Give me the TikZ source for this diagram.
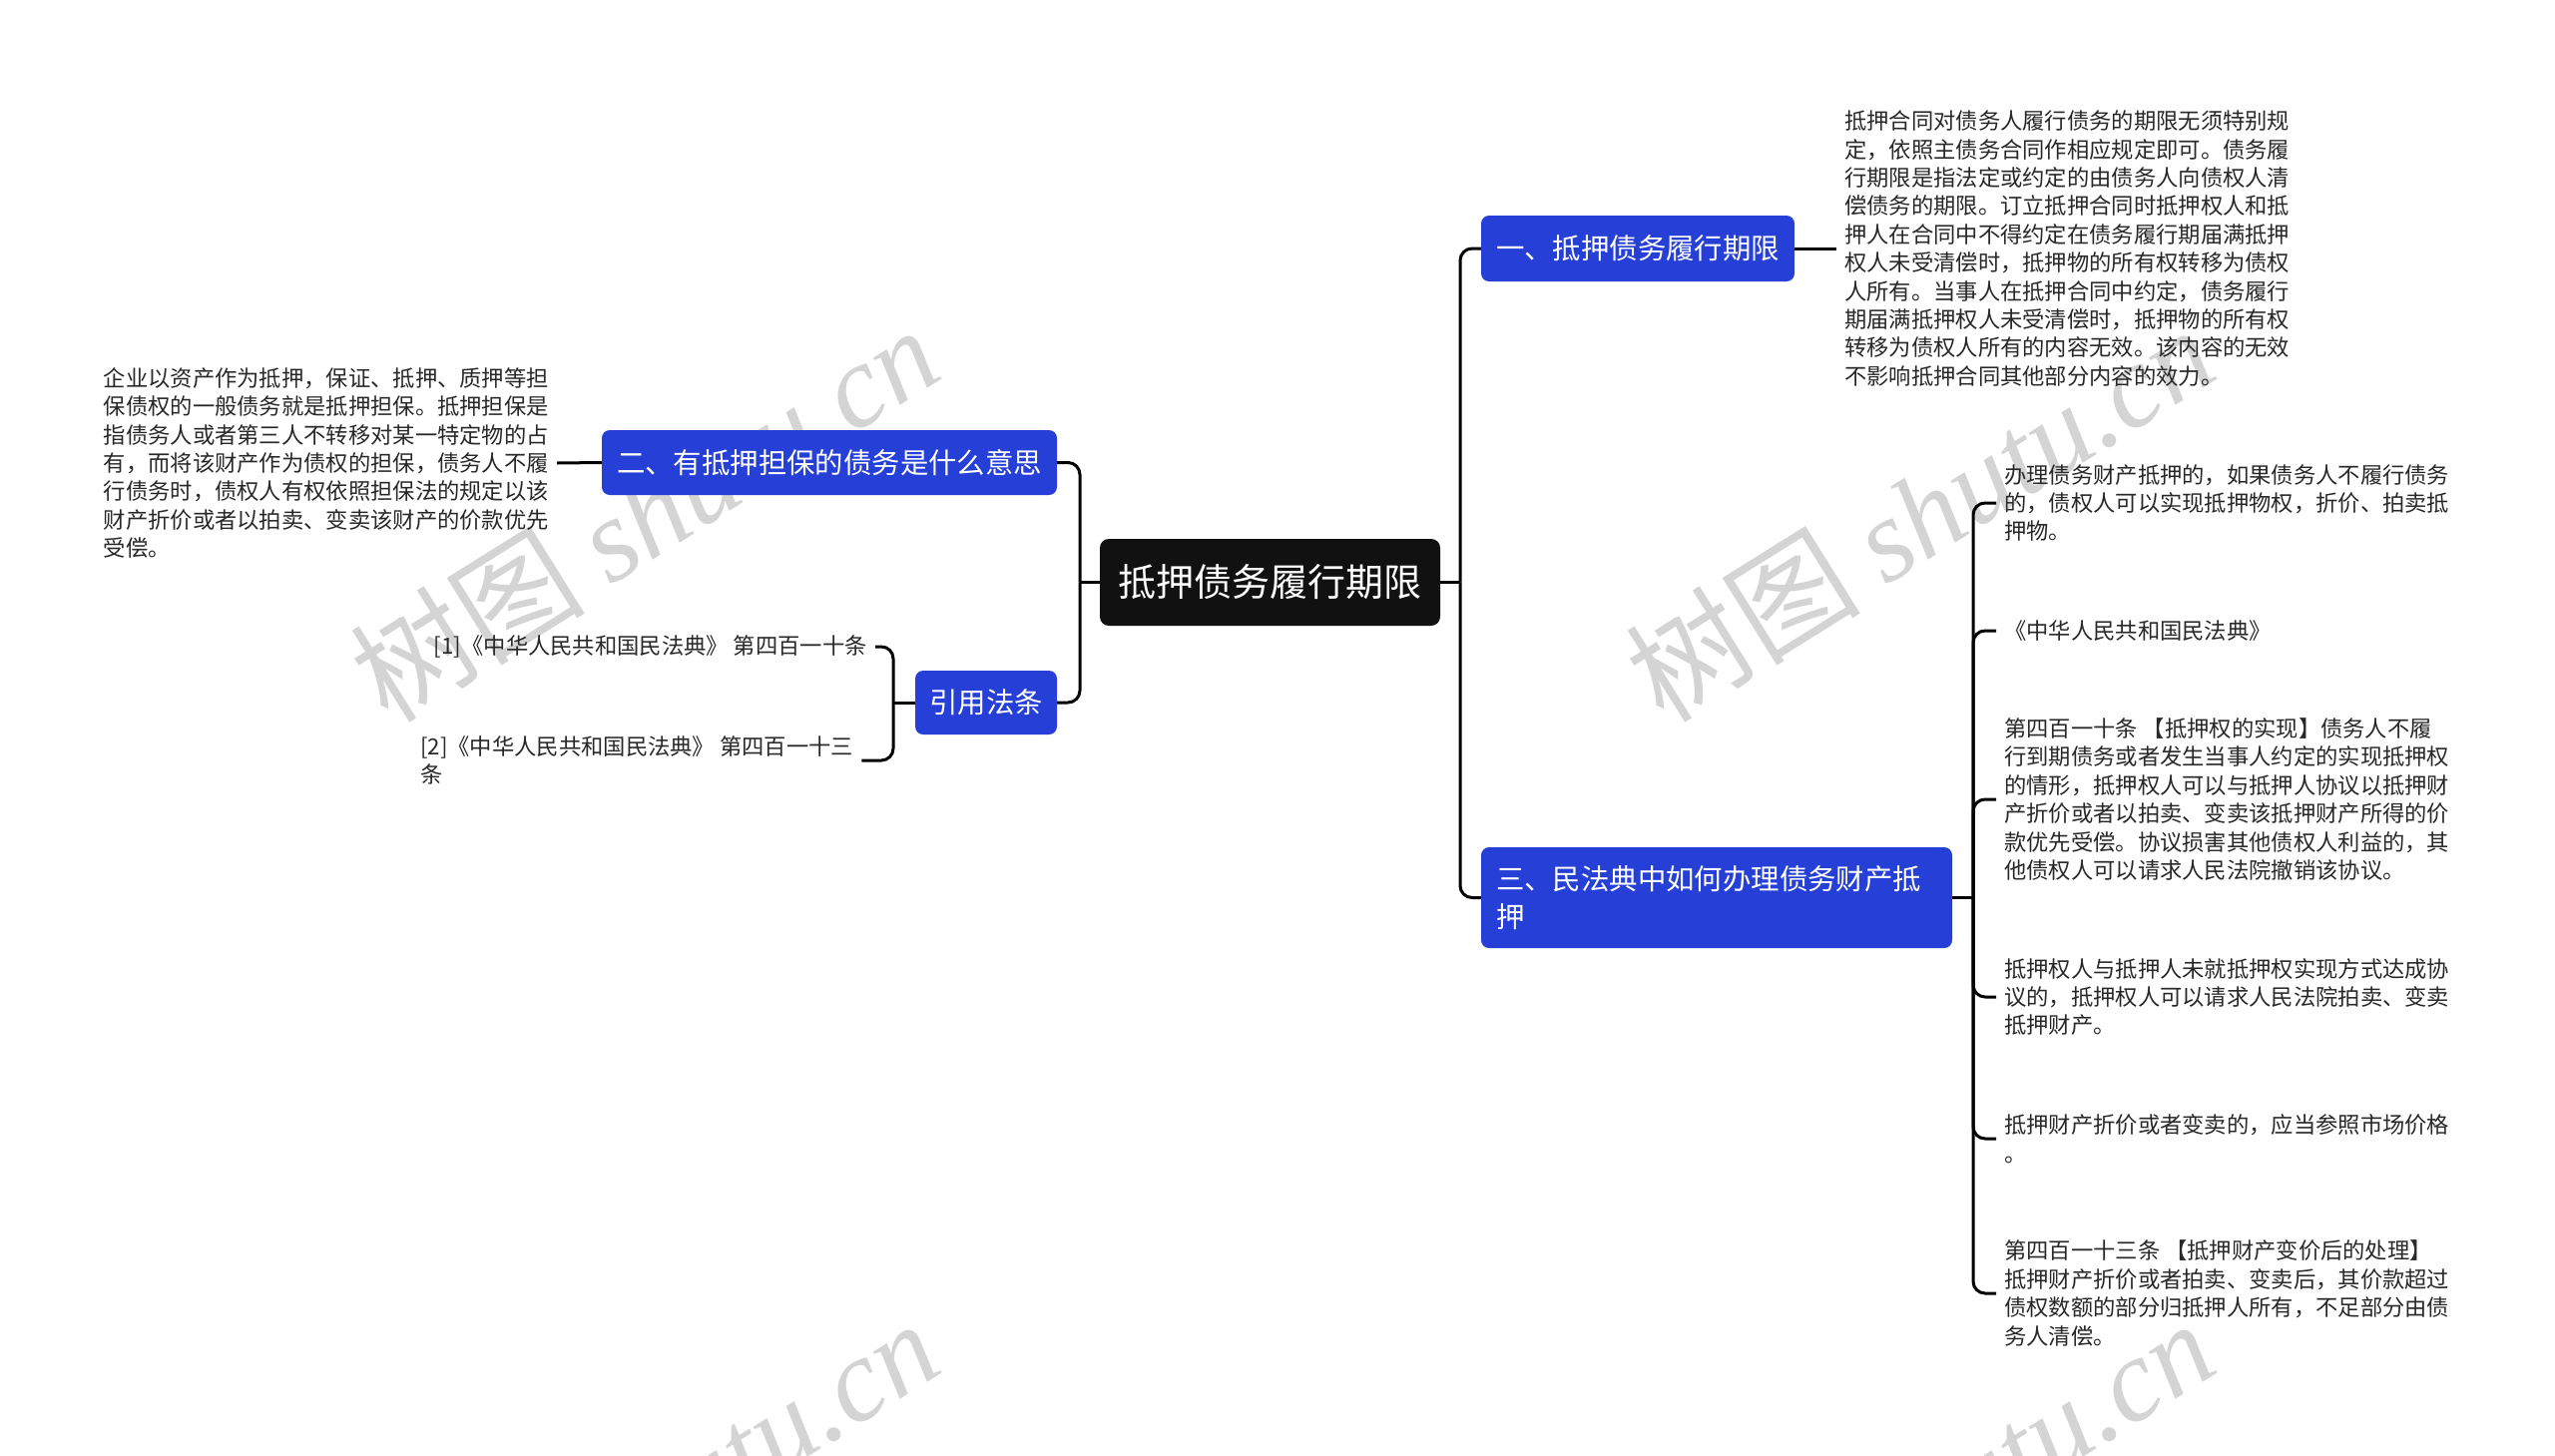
\documentclass[tikz,border=0pt]{standalone}
\usepackage{fontspec}
\setmainfont{Noto Sans CJK SC}
\newfontfamily\wmserif{Liberation Serif}
\definecolor{boxblue}{RGB}{38,64,215}
\definecolor{rootblack}{RGB}{17,17,17}
\definecolor{bodytxt}{RGB}{40,40,40}
\definecolor{wmgray}{RGB}{212,212,212}
\begin{document}
\begin{tikzpicture}[x=1pt,y=-1pt,
  topic/.style={fill=boxblue, text=white, rounded corners=8pt, inner sep=0pt,
    font=\fontsize{28.4}{37.5}\selectfont},
  rootbox/.style={fill=rootblack, text=white, rounded corners=9pt, inner sep=0pt,
    font=\fontsize{38}{44}\selectfont},
  body/.style={font=\fontsize{22.3}{28.4}\selectfont, text=bodytxt, align=left,
    inner xsep=8pt, inner ysep=0pt},
  conn/.style={draw=black, line width=3pt, rounded corners=12pt},
  wmark/.style={text=wmgray, font=\fontsize{118}{124}\selectfont, rotate=32, inner sep=0pt}]
\useasboundingbox (0,0) rectangle (2560,1459);
\fill[white] (0,0) rectangle (2560,1459);
% watermarks
\begin{scope}
\clip (0,0) rectangle (2560,1459);
\node[wmark] (w1) at (645,514) {树图 {\wmserif\itshape shutu.cn}};
\node[wmark] (w2) at (1923,514) {树图 {\wmserif\itshape shutu.cn}};
\node[wmark] (w3) at (645,1510) {树图 {\wmserif\itshape shutu.cn}};
\node[wmark] (w4) at (1923,1510) {树图 {\wmserif\itshape shutu.cn}};
\end{scope}
% main nodes
\node[rootbox, minimum width=341pt, minimum height=87pt] (root) at (1272.5,583.5) {抵押债务履行期限};
\node[topic, minimum width=314pt, minimum height=66pt] (n1) at (1641,249) {一、抵押债务履行期限};
\node[topic, minimum width=472pt, minimum height=101pt, text width=442pt, align=left] (n3) at (1720,899.5) {三、民法典中如何办理债务财产抵\\押};
\node[topic, minimum width=456pt, minimum height=65pt] (n2) at (831,463.5) {二、有抵押担保的债务是什么意思};
\node[topic, minimum width=142pt, minimum height=64pt] (law) at (988,704) {引用法条};
% junctions
\coordinate (rj) at (1463,583.5);
\coordinate (lj) at (1082,583.5);
\coordinate (lawj) at (895,704);
\coordinate (n3j) at (1977,899.5);
% text leaves
\node[body, anchor=west] (t1) at (1840,249) {抵押合同对债务人履行债务的期限无须特别规\\定，依照主债务合同作相应规定即可。债务履\\行期限是指法定或约定的由债务人向债权人清\\偿债务的期限。订立抵押合同时抵押权人和抵\\押人在合同中不得约定在债务履行期届满抵押\\权人未受清偿时，抵押物的所有权转移为债权\\人所有。当事人在抵押合同中约定，债务履行\\期届满抵押权人未受清偿时，抵押物的所有权\\转移为债权人所有的内容无效。该内容的无效\\不影响抵押合同其他部分内容的效力。};
\node[body, anchor=east] (t2) at (558,464) {企业以资产作为抵押，保证、抵押、质押等担\\保债权的一般债务就是抵押担保。抵押担保是\\指债务人或者第三人不转移对某一特定物的占\\有，而将该财产作为债权的担保，债务人不履\\行债务时，债权人有权依照担保法的规定以该\\财产折价或者以拍卖、变卖该财产的价款优先\\受偿。};
\node[body, anchor=east] (r1) at (877,648) {[1]《中华人民共和国民法典》 第四百一十条};
\node[body, anchor=west] (r2) at (413,762) {[2]《中华人民共和国民法典》 第四百一十三\\条};
\node[body, anchor=west] (c1) at (2000,504) {办理债务财产抵押的，如果债务人不履行债务\\的，债权人可以实现抵押物权，折价、拍卖抵\\押物。};
\node[body, anchor=west] (c2) at (2000,632) {《中华人民共和国民法典》};
\node[body, anchor=west] (c3) at (2000,801) {第四百一十条 【抵押权的实现】债务人不履\\行到期债务或者发生当事人约定的实现抵押权\\的情形，抵押权人可以与抵押人协议以抵押财\\产折价或者以拍卖、变卖该抵押财产所得的价\\款优先受偿。协议损害其他债权人利益的，其\\他债权人可以请求人民法院撤销该协议。};
\node[body, anchor=west] (c4) at (2000,999) {抵押权人与抵押人未就抵押权实现方式达成协\\议的，抵押权人可以请求人民法院拍卖、变卖\\抵押财产。};
\node[body, anchor=west] (c5) at (2000,1141) {抵押财产折价或者变卖的，应当参照市场价格\\。};
\node[body, anchor=west] (c6) at (2000,1296) {第四百一十三条 【抵押财产变价后的处理】\\抵押财产折价或者拍卖、变卖后，其价款超过\\债权数额的部分归抵押人所有，不足部分由债\\务人清偿。};
% connectors
\draw[conn] (root.east) -- (rj);
\draw[conn] (n1.west) -| (rj);
\draw[conn] (n3.west) -| (rj);
\draw[conn] (root.west) -- (lj);
\draw[conn] (n2.east) -| (lj);
\draw[conn] (law.east) -| (lj);
\draw[conn] (n1.east) -- (t1.west);
\draw[conn] (n2.west) -- (t2.east);
\draw[conn] (law.west) -- (lawj);
\draw[conn] (r1.east) -| (lawj);
\draw[conn] (r2.east) -| (lawj);
\draw[conn] (n3.east) -- (n3j);
\foreach \c in {c1,c2,c3,c4,c5,c6} {\draw[conn] (\c.west) -| (n3j);}
\end{tikzpicture}
\end{document}
